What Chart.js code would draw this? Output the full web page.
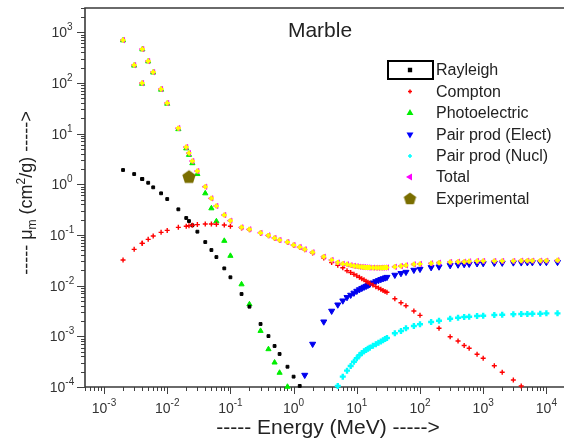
<!DOCTYPE html>
<html>
<head>
<meta charset="utf-8">
<script src="https://cdn.jsdelivr.net/npm/chart.js@4.4.1/dist/chart.umd.min.js"></script>
<style>
html, body { margin: 0; padding: 0; background: #fff; }
canvas { display: block; }
</style>
</head>
<body>
<canvas id="chart" width="572" height="448"></canvas>
<script>
// Photon energies (MeV), shared by all computed series
const energy = [0.002, 0.003, 0.004, 0.00404, 0.005, 0.006, 0.008, 0.01, 0.015, 0.02,
    0.0221, 0.025, 0.03, 0.04, 0.05, 0.06, 0.08, 0.1, 0.15, 0.2,
    0.3, 0.4, 0.5, 0.6, 0.8, 1, 1.25, 1.5, 2, 3,
    4, 5, 6, 7, 8, 9, 10, 11, 12, 13,
    14, 15, 16, 18, 20, 22, 24, 26, 28, 30,
    40, 50, 60, 80, 100, 150, 200, 300, 400, 500,
    600, 800, 1000, 1500, 2000, 3000, 4000, 5000, 6000, 8000,
    10000, 15000];

const N = null;

// Mass attenuation coefficients (cm2/g)
const rayleigh = [1.91, 1.59, 1.27, 1.27, 1.07, 0.869, 0.662, 0.511, 0.320, 0.216,
    0.188, 0.155, 0.116, 0.0724, 0.0504, 0.0366, 0.0219, 0.0146, 0.00683, 0.00384,
    0.00175, 0.00101, 0.000644, 0.000448, 0.000251, 0.00016, 0.000105, N, N, N,
    N, N, N, N, N, N, N, N, N, N,
    N, N, N, N, N, N, N, N, N, N,
    N, N, N, N, N, N, N, N, N, N,
    N, N, N, N, N, N, N, N, N, N,
    N, N];

const compton = [0.032, 0.052, 0.0683, 0.0683, 0.0818, 0.0951, 0.1125, 0.123, 0.141, 0.148,
    0.152, 0.155, 0.160, 0.164, 0.164, 0.162, 0.157, 0.148, 0.137, 0.126,
    0.108, 0.096, 0.0862, 0.0788, 0.0718, 0.0628, 0.0572, 0.0512, 0.0440, 0.0350,
    0.0285, 0.0253, 0.0225, 0.0197, 0.0181, 0.0168, 0.0156, 0.0146, 0.0137, 0.013,
    0.0122, 0.0117, 0.0111, 0.0103, 0.00955, 0.00897, 0.00846, 0.008, 0.00765, 0.00738,
    0.00552, 0.0046, 0.00402, 0.00316, 0.00259, N, 0.00144, 0.00098, 0.000807, 0.000659,
    0.00058, 0.000442, 0.000368, 0.000263, 0.000195, 0.000137, 0.000105, N, N, N,
    N, N];

const photoelectric = [690, 219, 96, 458, 265, 160, 73.5, 38.8, 12.2, 5.1,
    3.8, 2.6, 1.59, 0.662, 0.335, 0.186, 0.0765, 0.0387, 0.0106, 0.00428,
    0.00128, 0.000557, 0.000304, 0.000191, 0.000101, N, N, N, N, N,
    N, N, N, N, N, N, N, N, N, N,
    N, N, N, N, N, N, N, N, N, N,
    N, N, N, N, N, N, N, N, N, N,
    N, N, N, N, N, N, N, N, N, N,
    N, N];

const pairElect = [N, N, N, N, N, N, N, N, N, N,
    N, N, N, N, N, N, N, N, N, N,
    N, N, N, N, N, N, N, 0.000172, 0.000705, 0.00194,
    0.00316, 0.0042, 0.00504, 0.00588, 0.00653, 0.00718, 0.00782, 0.00838, 0.00889, 0.00938,
    0.00977, 0.0102, 0.0106, 0.0114, 0.0121, 0.0127, 0.0133, 0.0138, 0.0143, 0.0147,
    0.0162, 0.0175, 0.0185, 0.0203, 0.0212, 0.0229, 0.0236, 0.0251, 0.0258, 0.0263,
    0.0267, 0.0273, 0.0275, 0.0279, 0.0281, 0.0284, 0.0285, 0.0287, 0.0287, 0.0288,
    0.0289, 0.029];

const pairNucl = [N, N, N, N, N, N, N, N, N, N,
    N, N, N, N, N, N, N, N, N, N,
    N, N, N, N, N, N, N, N, N, N,
    N, 0.000105, 0.00016, 0.00021, 0.00026, 0.000315, 0.000368, 0.000422, 0.000469, 0.000506,
    0.000537, 0.000567, 0.000596, 0.00065, 0.000699, 0.000745, 0.000789, 0.000837, 0.000885, 0.000925,
    0.00115, 0.00127, 0.00144, 0.0016, 0.00173, 0.00191, 0.00203, 0.00222, 0.00233, 0.0024,
    0.00244, 0.00251, 0.00255, 0.00263, 0.00267, 0.00272, 0.00275, 0.00275, 0.00279, 0.00279,
    0.00284, 0.00284];

const total = [698, 224, 99, 464, 269, 163, 75.5, 40, 12.8, 5.42,
    4.12, 2.87, 1.82, 0.893, 0.527, 0.372, 0.247, 0.191, 0.141, 0.129,
    0.110, 0.098, 0.0869, 0.0793, 0.0724, 0.0632, 0.0577, 0.052, 0.0454, 0.0372,
    0.032, 0.0286, 0.0269, 0.0263, 0.0252, 0.0245, 0.024, 0.0236, 0.0233, 0.0231,
    0.0229, 0.0228, 0.0227, 0.0226, 0.0225, 0.0225, 0.0226, 0.0226, 0.0227, 0.0228,
    0.0235, 0.0243, 0.0251, 0.0263, 0.0267, 0.0275, 0.0283, 0.0292, 0.0296, 0.0296,
    0.0301, 0.0306, 0.0306, 0.0306, 0.0306, 0.0306, 0.031, 0.031, 0.031, 0.031,
    0.031, 0.0315];

// Experimental point
const expEnergy = [0.0221];
const expValue = [1.41];

// Axis limits
const xMin = 5e-4, xMax = 1.9e4;
const yMin = 1e-4, yMax = 3000;

const FONT = '"Liberation Sans", Arial, sans-serif';

// {x, y} points from the shared energy grid
function points(values) {
    return energy.map((e, i) => values[i] == null ? null : { x: e, y: values[i] }).filter(p => p);
}

// Pentagon marker (Chart.js has no pentagon point style)
function pentagon(r, color) {
    const s = Math.ceil(r * 2 + 2);
    const c = document.createElement('canvas');
    c.width = s;
    c.height = s;
    const g = c.getContext('2d');
    g.fillStyle = color;
    g.beginPath();
    for (let i = 0; i < 5; i++) {
        const a = -Math.PI / 2 + i * 2 * Math.PI / 5;
        g.lineTo(s / 2 + r * Math.cos(a), s / 2 + r * Math.sin(a) + 0.5);
    }
    g.closePath();
    g.fill();
    return c;
}

const OLIVE = '#7a6e00';
const pentBig = pentagon(7, OLIVE);
const pentSmall = pentagon(6.5, OLIVE);

// Text with super/subscripts: parts = [[text, size, dy], ...]
function richText(ctx, parts, cx, cy, rot) {
    ctx.save();
    ctx.translate(cx, cy);
    ctx.rotate(rot || 0);
    ctx.textBaseline = 'alphabetic';
    ctx.textAlign = 'left';
    let w = 0;
    parts.forEach(p => { ctx.font = p[1] + 'px ' + FONT; w += ctx.measureText(p[0]).width; });
    let x = -w / 2;
    parts.forEach(p => {
        ctx.font = p[1] + 'px ' + FONT;
        ctx.fillText(p[0], x, p[2]);
        x += ctx.measureText(p[0]).width;
    });
    ctx.restore();
}

// Axis lines, tick marks, labels, titles and the legend
const decorations = {
    id: 'decorations',
    beforeDatasetsDraw(chart) {
        const { ctx, chartArea: a, scales: { x, y } } = chart;
        ctx.save();
        ctx.strokeStyle = '#404040';
        ctx.lineWidth = 1;
        ctx.beginPath();
        for (let p = -4; p <= 4; p++) {
            for (let m = 1; m <= 9; m++) {
                const v = m * Math.pow(10, p);
                if (v >= xMin && v <= xMax) {
                    const px = Math.round(x.getPixelForValue(v)) + 0.5;
                    ctx.moveTo(px, a.bottom);
                    ctx.lineTo(px, a.bottom + (m === 1 ? 7 : 4));
                }
                if (v >= yMin && v <= yMax) {
                    const py = Math.round(y.getPixelForValue(v)) + 0.5;
                    ctx.moveTo(a.left, py);
                    ctx.lineTo(a.left - (m === 1 ? 8 : 4), py);
                }
            }
        }
        ctx.stroke();
        ctx.lineWidth = 1.6;
        ctx.strokeStyle = '#3a3a3a';
        ctx.beginPath();
        ctx.moveTo(a.right, a.top);
        ctx.lineTo(a.left, a.top);
        ctx.lineTo(a.left, a.bottom);
        ctx.lineTo(a.right, a.bottom);
        ctx.stroke();
        ctx.restore();
    },
    afterDraw(chart) {
        const { ctx, chartArea: a, scales: { x, y } } = chart;
        ctx.save();
        ctx.fillStyle = '#333';
        // x tick labels
        for (let p = -3; p <= 4; p++) {
            const px = x.getPixelForValue(Math.pow(10, p));
            richText(ctx, [['10', 14, 6], [String(p), 10, -1]], px, a.bottom + 20);
        }
        // y tick labels
        for (let p = -4; p <= 3; p++) {
            const py = y.getPixelForValue(Math.pow(10, p));
            richText(ctx, [['10', 14, 5], [String(p), 10, -2]], 62, py);
        }
        ctx.fillStyle = '#222';
        // axis titles
        richText(ctx, [['----- Energy (MeV) ----->', 21, 7]], 328, 427);
        richText(ctx, [['----- \u03bc', 18, 6], ['m', 12, 10], [' (cm', 18, 6], ['2', 12, -1], ['/g) ----->', 18, 6]],
            26, 193, -Math.PI / 2);
        // chart title
        richText(ctx, [['Marble', 21, 7]], 320, 30);

        // legend
        const items = [
            ['Rayleigh', { pointStyle: 'rect', radius: 2, rotation: 0 }, '#000'],
            ['Compton', { pointStyle: 'cross', radius: 2, rotation: 0 }, '#ff0000'],
            ['Photoelectric', { pointStyle: 'triangle', radius: 2.5, rotation: 0 }, '#00ee00'],
            ['Pair prod (Elect)', { pointStyle: 'triangle', radius: 2.5, rotation: 180 }, '#0000ff'],
            ['Pair prod (Nucl)', { pointStyle: 'cross', radius: 2, rotation: 0 }, '#00ffff'],
            ['Total', { pointStyle: 'triangle', radius: 2.5, rotation: -90 }, '#ff00ff'],
            ['Experimental', { pointStyle: pentSmall, radius: 6, rotation: 0 }, OLIVE]
        ];
        const rows = [70, 91.5, 113, 134.5, 156, 177, 198.5];
        ctx.strokeStyle = '#000';
        ctx.lineWidth = 2;
        ctx.strokeRect(388, 61, 45, 18);
        items.forEach((it, i) => {
            ctx.fillStyle = it[2];
            ctx.strokeStyle = it[2];
            ctx.lineWidth = 1.5;
            Chart.helpers.drawPoint(ctx, Object.assign({ borderWidth: 1.5 }, it[1]), 410, rows[i]);
            ctx.fillStyle = '#222';
            ctx.font = '16px ' + FONT;
            ctx.textBaseline = 'middle';
            ctx.textAlign = 'left';
            ctx.fillText(it[0], 436, rows[i] + 1);
        });
        ctx.restore();
    }
};

function series(label, values, style, color, extra) {
    return Object.assign({
        label: label,
        data: points(values),
        pointStyle: style,
        backgroundColor: color,
        borderColor: color,
        pointRadius: 2.5,
        borderWidth: 1,
        clip: false
    }, extra || {});
}

const ctx = document.getElementById('chart').getContext('2d');
const chart = new Chart(ctx, {
    type: 'scatter',
    data: {
        datasets: [
            {
                label: 'Experimental',
                data: expEnergy.map((e, i) => ({ x: e, y: expValue[i] })),
                pointStyle: pentBig,
                pointRadius: 7,
                clip: false,
                order: 0
            },
            series('Sum', total, 'cross', '#ffff00', { pointRadius: 2.5, borderWidth: 2.2, order: 1 }),
            series('Total', total, 'triangle', '#ff00ff', { pointRadius: 3, rotation: -90, order: 2 }),
            series('Compton', compton, 'cross', '#ff0000', { pointRadius: 2.5, borderWidth: 1.4, order: 3 }),
            series('Rayleigh', rayleigh, 'rect', '#000000', { pointRadius: 2, order: 4 }),
            series('Photoelectric', photoelectric, 'triangle', '#00ee00', { pointRadius: 3, order: 5 }),
            series('Pair prod (Elect)', pairElect, 'triangle', '#0000ee', { pointRadius: 3.5, rotation: 180, order: 6 }),
            series('Pair prod (Nucl)', pairNucl, 'cross', '#00ffff', { pointRadius: 3, borderWidth: 2.4, order: 7 })
        ]
    },
    options: {
        responsive: false,
        animation: false,
        events: [],
        layout: { padding: { top: 8, left: 0, right: 0, bottom: 0 } },
        plugins: {
            legend: { display: false },
            tooltip: { enabled: false }
        },
        scales: {
            x: {
                type: 'logarithmic',
                min: xMin,
                max: xMax,
                grid: { display: false },
                border: { display: false },
                ticks: { display: false },
                afterFit: s => { s.height = 61; }
            },
            y: {
                type: 'logarithmic',
                min: yMin,
                max: yMax,
                grid: { display: false },
                border: { display: false },
                ticks: { display: false },
                afterFit: s => { s.width = 85; }
            }
        }
    },
    plugins: [decorations]
});
</script>
</body>
</html>
